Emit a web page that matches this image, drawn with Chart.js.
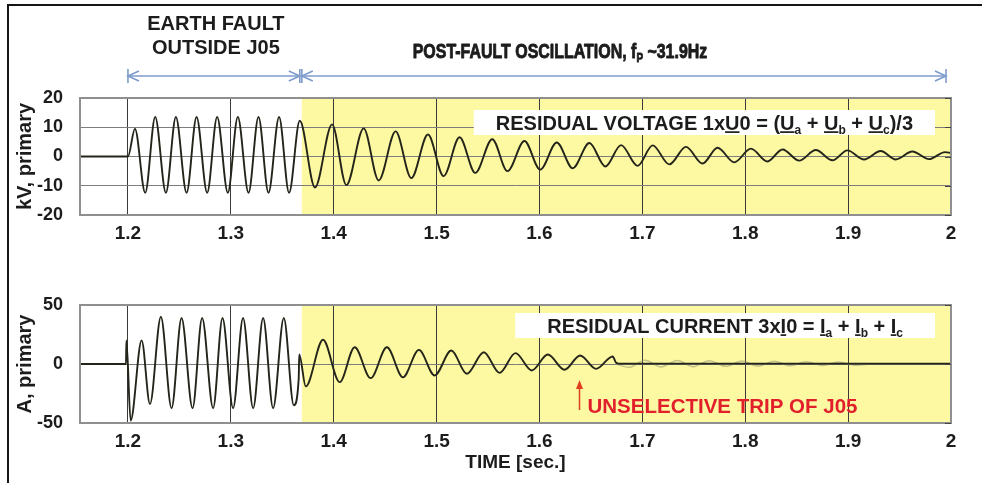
<!DOCTYPE html>
<html>
<head>
<meta charset="utf-8">
<script src="https://cdn.jsdelivr.net/npm/chart.js@4.4.0/dist/chart.umd.min.js"></script>
<style>
  html, body { margin: 0; padding: 0; background: #fff; }
  #wrap { position: relative; width: 982px; height: 483px; overflow: hidden; background: #fff; }
  #cvU { position: absolute; left: 0; top: 0; }
  #cvI { position: absolute; left: 0; top: 250px; }
  #frame { position: absolute; left: 7px; top: 4px; width: 1000px; height: 500px;
           border-left: 2px solid #151515; border-top: 2px solid #151515; pointer-events: none; }
</style>
</head>
<body>
<div id="wrap">
  <canvas id="cvU" width="982" height="250"></canvas>
  <canvas id="cvI" width="982" height="233"></canvas>
  <div id="frame"></div>
</div>
<script>
// ---- time axis ----
const timeStart = 1.1534;
const timeEnd = 2.0;
const timeTicks = [1.2, 1.3, 1.4, 1.5, 1.6, 1.7, 1.8, 1.9, 2.0];
const timeTickLabels = ['1.2', '1.3', '1.4', '1.5', '1.6', '1.7', '1.8', '1.9', '2'];

// ---- event instants [s] ----
const faultStart = 1.2;
const faultCleared = 1.369;
const tripInstant = 1.6388;

// ---- residual voltage 1xU0 [kV, primary] ----
const voltageTicks = [-20, -10, 0, 10, 20];
const voltageTime = [1.1534, 1.2000, 1.2068, 1.2168, 1.2265, 1.2369, 1.2466, 1.2570, 1.2667, 1.2770,
  1.2867, 1.2971, 1.3068, 1.3172, 1.3269, 1.3366, 1.3469, 1.3566, 1.3670, 1.3818,
  1.3984, 1.4123, 1.4291, 1.4437, 1.4602, 1.4754, 1.4916, 1.5068, 1.5223, 1.5376,
  1.5541, 1.5689, 1.5854, 1.6007, 1.6168, 1.6323, 1.6485, 1.6641, 1.6793, 1.6954,
  1.7100, 1.7262, 1.7424, 1.7585, 1.7731, 1.7893, 1.8055, 1.8216, 1.8362, 1.8524,
  1.8686, 1.8848, 1.8993, 1.9155, 1.9317, 1.9463, 1.9624, 1.9786, 1.9942, 2.0000];
const voltageKV = [0, 0, 9.5, -12.4, 13.5, -12.4, 13.5, -12.4, 13.5, -12.4,
  13.5, -12.4, 13.5, -12.4, 13.5, -12.4, 13.5, -12.4, 12.2, -10.6,
  11.0, -9.8, 9.6, -8.2, 8.6, -7.4, 7.5, -6.7, 6.6, -5.6,
  5.9, -5.0, 5.3, -4.5, 4.8, -4.0, 4.6, -3.4, 3.9, -3.2,
  3.8, -2.7, 3.3, -2.4, 3.0, -2.0, 2.7, -1.7, 2.4, -1.4,
  2.2, -1.3, 2.1, -1.0, 1.9, -1.0, 1.7, -0.9, 1.5, 1.2];

// ---- residual current 3xI0 [A, primary] ----
const currentTicks = [-50, 0, 50];
const currentTime = [1.1534, 1.1981, 1.1985, 1.2026, 1.2133, 1.2214, 1.2320, 1.2424, 1.2521, 1.2628,
  1.2721, 1.2828, 1.2919, 1.3022, 1.3119, 1.3217, 1.3314, 1.3411, 1.3515, 1.3612,
  1.3660, 1.3665, 1.3728, 1.3896, 1.4058, 1.4204, 1.4359, 1.4517, 1.4673, 1.4828,
  1.4981, 1.5143, 1.5294, 1.5459, 1.5612, 1.5767, 1.5925, 1.6081, 1.6243, 1.6395,
  1.6550, 1.6712, 1.6745, 1.6777, 2.0000];
const currentA = [0, 0, 20, -48, 20, -34, 40, -37.5, 39, -37.5,
  39, -37.5, 39, -37.5, 39, -37.5, 39, -37.5, 39, -35,
  -12, 8, -19, 20.5, -15.4, 14.2, -12, 14.2, -11.2, 12,
  -9.7, 11.4, -8.3, 10, -7.5, 9.2, -5.5, 8, -4.9, 7.2,
  -4.1, 6.4, 1, 0.3, 0.3];

// faint remaining ripple after the trip
const rippleTime = [1.6745, 1.6869, 1.7025, 1.7182, 1.7340, 1.7495, 1.7650, 1.7811, 1.7967,
  1.8124, 1.8282, 1.8437, 1.8592, 1.8752, 1.8909, 1.9066, 1.9223];
const rippleA = [0, -2.8, 3.2, -2.5, 3.0, -2.3, 2.8, -2.0, 2.5,
  -1.8, 2.3, -1.5, 2.0, -1.3, 1.7, -1.1, 0];

// ---- styling ----
const FAMILY = "'Liberation Sans', Arial, Helvetica, sans-serif";
const INK = '#1c1c1c';
const YELLOW = '#fcf9a2';
const TRACE = '#24241a';
const ARROW_BLUE = '#7e9bcb';
const RED = '#e2202c';

const pts = (xs, ys) => xs.map((x, i) => ({ x: x, y: ys[i] }));

function runFont(r, size) {
  return 'bold ' + (r.sub ? Math.round(size * 0.6) : size) + 'px ' + FAMILY;
}

function measureRuns(ctx, runs, size, sx) {
  let w = 0;
  runs.forEach(r => { ctx.font = runFont(r, size); r.w = ctx.measureText(r.t).width; w += r.w; });
  return w * (sx || 1);
}

// draws text made of runs (plain, subscript, underlined), optionally condensed by sx
// and thickened by an outline of width heavy
function drawRuns(ctx, runs, x, y, size, color, align, sx, heavy) {
  sx = sx || 1;
  const w = measureRuns(ctx, runs, size, sx);
  const start = align === 'center' ? x - w / 2 : x;
  ctx.save();
  ctx.translate(start, y);
  ctx.scale(sx, 1);
  ctx.fillStyle = color; ctx.strokeStyle = color;
  ctx.textAlign = 'left'; ctx.textBaseline = 'alphabetic';
  ctx.lineJoin = 'round';
  let cx = 0;
  runs.forEach(r => {
    ctx.font = runFont(r, size);
    const ty = r.sub ? size * 0.2 : 0;
    ctx.fillText(r.t, cx, ty);
    if (heavy) { ctx.lineWidth = heavy; ctx.strokeText(r.t, cx, ty); }
    if (r.u) {
      ctx.lineWidth = 1.7;
      ctx.beginPath(); ctx.moveTo(cx, 2.6); ctx.lineTo(cx + r.w, 2.6); ctx.stroke();
    }
    cx += r.w;
  });
  ctx.restore();
  return w;
}

function arrowEnd(ctx, x, y, dir) {
  // stop bar plus chevron: dir = +1 opens to the right "|<", -1 opens to the left ">|"
  ctx.beginPath();
  ctx.moveTo(x, y - 7); ctx.lineTo(x, y + 7);
  ctx.moveTo(x + dir * 11, y - 5); ctx.lineTo(x, y); ctx.lineTo(x + dir * 11, y + 5);
  ctx.stroke();
}

const BOX_TEXT = 20;

// shaded post-fault interval, label box, frame
function panelPlugin(id, boxRuns, boxTopOff, boxPad) {
  return {
    id: id,
    beforeDraw(chart) {
      const { ctx, chartArea: a, scales: { x } } = chart;
      const x0 = x.getPixelForValue(faultCleared);
      ctx.save();
      ctx.fillStyle = YELLOW;
      ctx.fillRect(x0, a.top, a.right - x0, a.bottom - a.top);
      ctx.restore();
    },
    beforeDatasetsDraw(chart) {
      const { ctx, chartArea: a } = chart;
      const w = measureRuns(ctx, boxRuns, BOX_TEXT);
      const right = a.right - 16;
      ctx.save();
      ctx.fillStyle = '#ffffff';
      ctx.fillRect(right - w - 2 * boxPad, a.top + boxTopOff, w + 2 * boxPad, 25);
      ctx.restore();
    },
    afterDatasetsDraw(chart) {
      const { ctx, chartArea: a, scales: { y } } = chart;
      const w = measureRuns(ctx, boxRuns, BOX_TEXT);
      const right = a.right - 16;
      drawRuns(ctx, boxRuns, right - boxPad - w, a.top + boxTopOff + 19.5, BOX_TEXT, INK, 'left');
      ctx.save();
      ctx.strokeStyle = '#8f8f8f';
      ctx.lineWidth = 2;
      ctx.strokeRect(a.left, a.top, a.right - a.left, a.bottom - a.top);
      ctx.strokeStyle = '#444';
      ctx.lineWidth = 1;
      y.ticks.forEach(t => {
        const py = Math.round(y.getPixelForValue(t.value)) + 0.5;
        ctx.beginPath(); ctx.moveTo(a.right - 6, py); ctx.lineTo(a.right, py); ctx.stroke();
      });
      ctx.restore();
    }
  };
}

function xScale(tickPad, withTitle, axisHeight) {
  return {
    type: 'linear', min: timeStart, max: timeEnd,
    afterBuildTicks: s => { s.ticks = timeTicks.map(v => ({ value: v })); },
    afterFit: s => { s.height = axisHeight; },
    ticks: {
      autoSkip: false, maxRotation: 0, padding: tickPad, color: INK,
      font: { family: FAMILY, size: 19, weight: 'bold' },
      callback: v => timeTickLabels[timeTicks.findIndex(t => Math.abs(t - v) < 1e-9)]
    },
    grid: { color: '#3a3a3a', lineWidth: 1, drawTicks: false },
    border: { display: false },
    title: withTitle ? { display: true, text: 'TIME [sec.]', color: INK,
      font: { family: FAMILY, size: 19, weight: 'bold' }, padding: { top: 0, bottom: 9 } } : { display: false }
  };
}

function yScale(min, max, ticks, title) {
  return {
    min: min, max: max,
    afterBuildTicks: s => { s.ticks = ticks.map(v => ({ value: v })); },
    afterFit: s => { s.width = 80; },
    ticks: { padding: 17, color: INK, font: { family: FAMILY, size: 18, weight: 'bold' },
      callback: v => String(v) },
    grid: { color: '#7d7d7d', lineWidth: 1, drawTicks: false },
    border: { display: false },
    title: { display: true, text: title, color: INK,
      font: { family: FAMILY, size: 20, weight: 'bold' }, padding: { top: 13, bottom: 0 } }
  };
}

const lineStyle = {
  borderColor: TRACE, borderWidth: 1.9, pointRadius: 0, fill: false,
  cubicInterpolationMode: 'monotone', tension: 0.4
};

// ---- voltage panel ----
const voltageRuns = [
  { t: 'RESIDUAL VOLTAGE 1x' }, { t: 'U', u: true }, { t: '0 = (' },
  { t: 'U', u: true }, { t: 'a', sub: true }, { t: ' + ' },
  { t: 'U', u: true }, { t: 'b', sub: true }, { t: ' + ' },
  { t: 'U', u: true }, { t: 'c', sub: true }, { t: ')/3' }
];

const headerPlugin = {
  id: 'headers',
  afterDraw(chart) {
    const { ctx, chartArea: a, scales: { x } } = chart;
    const xs = x.getPixelForValue(faultStart);
    const xc = x.getPixelForValue(faultCleared);
    const xe = x.getPixelForValue(timeEnd) - 5;
    ctx.save();
    ctx.fillStyle = INK;
    ctx.font = 'bold 20px ' + FAMILY;
    ctx.textAlign = 'center';
    ctx.textBaseline = 'alphabetic';
    const mid = (xs + xc) / 2 + 1;
    ctx.fillText('EARTH FAULT', mid, 30);
    ctx.fillText('OUTSIDE J05', mid, 54);
    ctx.restore();
    drawRuns(ctx, [{ t: 'POST-FAULT OSCILLATION, f' }, { t: 'P', sub: true }, { t: ' ~31.9Hz' }],
      a.left + 480, 57.5, 21, INK, 'center', 0.76, 0.9);
    ctx.save();
    ctx.strokeStyle = ARROW_BLUE;
    ctx.lineWidth = 1.6;
    const ay = 76;
    ctx.beginPath(); ctx.moveTo(xs, ay); ctx.lineTo(xc - 2, ay); ctx.stroke();
    ctx.beginPath(); ctx.moveTo(xc, ay); ctx.lineTo(xe, ay); ctx.stroke();
    arrowEnd(ctx, xs, ay, 1);
    arrowEnd(ctx, xc - 2, ay, -1);
    arrowEnd(ctx, xc, ay, 1);
    arrowEnd(ctx, xe, ay, -1);
    ctx.restore();
  }
};

new Chart(document.getElementById('cvU'), {
  type: 'line',
  data: { datasets: [Object.assign({ label: '1xU0', data: pts(voltageTime, voltageKV) }, lineStyle)] },
  options: {
    responsive: false, animation: false,
    layout: { padding: { left: 0, right: 31, top: 98, bottom: 0 } },
    plugins: { legend: { display: false }, tooltip: { enabled: false } },
    scales: {
      x: xScale(7, false, 35),
      y: yScale(-20, 20, voltageTicks, 'kV, primary')
    }
  },
  plugins: [panelPlugin('voltagePanel', voltageRuns, 12, 22), headerPlugin]
});

// ---- current panel ----
const currentRuns = [
  { t: 'RESIDUAL CURRENT 3x' }, { t: 'I', u: true }, { t: '0 = ' },
  { t: 'I', u: true }, { t: 'a', sub: true }, { t: ' + ' },
  { t: 'I', u: true }, { t: 'b', sub: true }, { t: ' + ' },
  { t: 'I', u: true }, { t: 'c', sub: true }
];

const tripPlugin = {
  id: 'trip',
  afterDraw(chart) {
    const { ctx, scales: { x } } = chart;
    const px = Math.round(x.getPixelForValue(tripInstant)) + 0.5;
    ctx.save();
    ctx.strokeStyle = '#e0401c'; ctx.fillStyle = '#e0401c';
    ctx.lineWidth = 1.5;
    ctx.beginPath(); ctx.moveTo(px, 160); ctx.lineTo(px, 137); ctx.stroke();
    ctx.beginPath(); ctx.moveTo(px, 130); ctx.lineTo(px - 3.5, 139); ctx.lineTo(px + 3.5, 139); ctx.closePath(); ctx.fill();
    ctx.fillStyle = RED;
    ctx.font = 'bold 20.5px ' + FAMILY;
    ctx.textAlign = 'left'; ctx.textBaseline = 'alphabetic';
    ctx.fillText('UNSELECTIVE TRIP OF J05', px + 8, 163);
    ctx.restore();
  }
};

new Chart(document.getElementById('cvI'), {
  type: 'line',
  data: {
    datasets: [
      Object.assign({ label: 'ripple', data: pts(rippleTime, rippleA), order: 2 }, lineStyle,
        { borderColor: 'rgba(150,150,112,0.55)', borderWidth: 1.5 }),
      Object.assign({ label: '3xI0', data: pts(currentTime, currentA), order: 1 }, lineStyle)
    ]
  },
  options: {
    responsive: false, animation: false,
    layout: { padding: { left: 0, right: 31, top: 55, bottom: 0 } },
    plugins: { legend: { display: false }, tooltip: { enabled: false } },
    scales: {
      x: xScale(7, true, 60),
      y: yScale(-50, 50, currentTicks, 'A, primary')
    }
  },
  plugins: [panelPlugin('currentPanel', currentRuns, 8, 32), tripPlugin]
});
</script>
</body>
</html>
